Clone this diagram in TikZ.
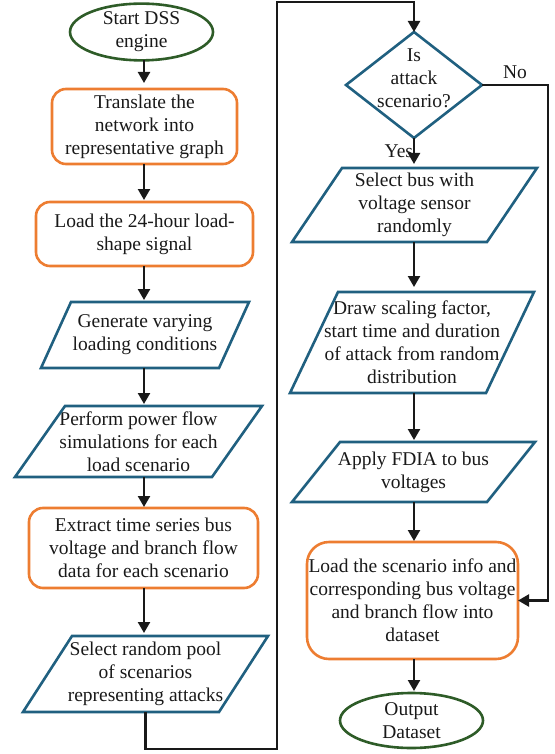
\documentclass[tikz,border=0pt]{standalone}
\usepackage{fontspec}
\setmainfont{Liberation Serif}
\usetikzlibrary{shapes.geometric,arrows.meta,calc}
\definecolor{borange}{RGB}{237,125,49}
\definecolor{bblue}{RGB}{32,96,128}
\definecolor{bgreen}{RGB}{46,92,40}
\definecolor{ink}{RGB}{25,25,25}
\newcommand{\parashape}[7]{%
  \node[minimum width=#4pt, minimum height=#5pt] (#1) at (#2,#3) {#7};
  \draw[pline] ([xshift=#6pt]#1.north west) -- ([xshift=#6pt]#1.north east)
    -- ([xshift=-#6pt]#1.south east) -- ([xshift=-#6pt]#1.south west) -- cycle;}
\begin{document}
\begin{tikzpicture}[x=1pt,y=-1pt,
  every node/.style={font=\fontsize{19.5}{23}\selectfont, text=ink, align=center, inner sep=0pt, outer sep=0pt},
  rbox/.style={draw=borange, line width=2.6pt, rounded corners=14pt},
  term/.style={ellipse, draw=bgreen, line width=2.6pt},
  pline/.style={draw=bblue, line width=2.6pt, line join=miter},
  arr/.style={draw=ink, line width=2.3pt, -{Triangle[length=11pt,width=12pt]}},
  conn/.style={draw=ink, line width=2.3pt}
]
\useasboundingbox (0,0) rectangle (554,754);
\coordinate (cx) at (144,0);
\coordinate (rx) at (414,0);
\coordinate (lb) at (277,749);
\coordinate (lt) at (277,2);
\coordinate (nr) at (548,0);

% left column
\node[term, minimum width=143pt, minimum height=56pt] (s) at (141.5,32) {Start DSS\\engine};
\node[rbox, minimum width=185pt, minimum height=75pt] (b1) at (144.5,126.5) {Translate the\\network into\\representative graph};
\node[rbox, minimum width=217pt, minimum height=64pt] (b2) at (144.5,234) {Load the 24-hour load-\\shape signal};
\parashape{p3}{145}{335}{178}{66}{15}{Generate varying\\loading conditions}
\parashape{p4}{138.5}{441.5}{197}{71}{25}{Perform power flow\\simulations for each\\load scenario}
\node[rbox, minimum width=229pt, minimum height=80pt] (b5) at (143.5,548) {Extract time series bus\\voltage and branch flow\\data for each scenario};
\parashape{p6}{145.5}{674}{196}{76}{24.5}{Select random pool\\of scenarios\\representing attacks}

% right column
\node[diamond, draw=bblue, line width=2.6pt, minimum width=136pt, minimum height=106pt] (d) at (414,85) {};
\node (dt) at (414,78) {Is\\attack\\scenario?};
\parashape{p7}{414.5}{205}{195}{74}{25}{Select bus with\\voltage sensor\\randomly}
\parashape{p8}{412}{342.5}{196}{101}{24}{Draw scaling factor,\\start time and duration\\of attack from random\\distribution}
\parashape{p9}{413.5}{472}{195}{60}{24}{Apply FDIA to bus\\voltages}
\node[rbox, rounded corners=22pt, minimum width=211pt, minimum height=117pt] (b10) at (412.5,600.5) {Load the scenario info and\\corresponding bus voltage\\and branch flow into\\dataset};
\node[term, minimum width=143pt, minimum height=55pt] (e) at (411.5,720.5) {Output\\Dataset};

% connectors left
\draw[arr, shorten >=6pt] (s.south -| cx) -- (b1.north -| cx);
\draw[arr, shorten >=2pt] (b1.south -| cx) -- (b2.north -| cx);
\draw[arr, shorten >=2pt] (b2.south -| cx) -- (p3.north -| cx);
\draw[arr, shorten >=2pt] (p3.south -| cx) -- (p4.north -| cx);
\draw[arr, shorten >=1pt] (p4.south -| cx) -- (b5.north -| cx);
\draw[arr, shorten >=3pt] (b5.south -| cx) -- (p6.north -| cx);
\draw[arr] (p6.south) |- (lb) -- (lt) -| (d.north);

% connectors right
\draw[arr, shorten >=4pt] (d.south) -- (p7.north -| d.south) node[pos=0.45, left=1pt] {Yes};
\draw[arr, shorten >=5pt] (p7.south -| rx) -- (p8.north -| rx);
\draw[arr, shorten >=2pt] (p8.south -| rx) -- (p9.north -| rx);
\draw[arr, shorten >=1pt] (p9.south -| rx) -- (b10.north -| rx);
\draw[arr, shorten >=2pt] (b10.south -| rx) -- (e.north -| rx);
\draw[arr] (d.east) -- (d.east -| nr) |- (b10.east);
\node (no) at (515,72) {No};
\end{tikzpicture}
\end{document}
